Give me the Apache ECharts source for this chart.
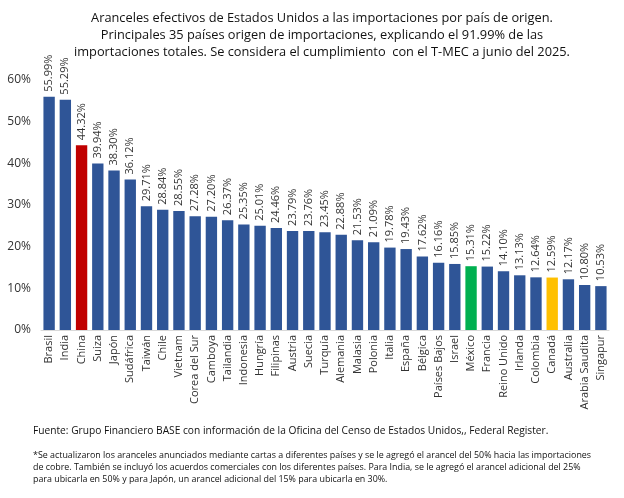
<!DOCTYPE html>
<html><head><meta charset="utf-8">
<script src="https://cdn.jsdelivr.net/npm/echarts@6/dist/echarts.min.js"></script>
<style>html,body{margin:0;padding:0;background:#fff}#c{width:624px;height:498px}</style>
</head><body><div id="c"></div>
<script>
const categories = ["Brasil","India","China","Suiza","Japón","Sudáfrica","Taiwán","Chile","Vietnam","Corea del Sur","Camboya","Tailandia","Indonesia","Hungría","Filipinas","Austria","Suecia","Turquía","Alemania","Malasia","Polonia","Italia","España","Bélgica","Países Bajos","Israel","México","Francia","Reino Unido","Irlanda","Colombia","Canadá","Australia","Arabia Saudita","Singapur"];
const tariffs = [55.99,55.29,44.32,39.94,38.30,36.12,29.71,28.84,28.55,27.28,27.20,26.37,25.35,25.01,24.46,23.79,23.76,23.45,22.88,21.53,21.09,19.78,19.43,17.62,16.16,15.85,15.31,15.22,14.10,13.13,12.64,12.59,12.17,10.80,10.53];
const highlight = {"China":"#C00000","México":"#00B050","Canadá":"#FFC000"};
const baseColor = "#2F5597";
const yTicks = [0,10,20,30,40,50,60];

const FONT = "'Open Sans', 'Noto Sans', sans-serif";
const chart = echarts.init(document.getElementById('c'));
chart.setOption({
  animation:false,
  textStyle:{fontFamily:FONT},
  title:[
    {text:"Aranceles efectivos de Estados Unidos a las importaciones por país de origen.\nPrincipales 35 países origen de importaciones, explicando el 91.99% de las\nimportaciones totales. Se considera el cumplimiento  con el T-MEC a junio del 2025.",
     left:322, top:10, textAlign:'center', padding:0,
     textStyle:{fontSize:12.8, fontWeight:'normal', color:'#111', lineHeight:17, fontFamily:FONT}},
    {text:"Fuente: Grupo Financiero BASE con información de la Oficina del Censo de Estados Unidos,, Federal Register.",
     left:33, top:426, padding:0, textStyle:{fontSize:10.2, fontWeight:'normal', color:'#111', fontFamily:FONT}},
    {text:"*Se actualizaron los aranceles anunciados mediante cartas a diferentes países y se le agregó el arancel del 50% hacia las importaciones\nde cobre. También se incluyó los acuerdos comerciales con los diferentes países. Para India, se le agregó el arancel adicional del 25%\npara ubicarla en 50% y para Japón, un arancel adicional del 15% para ubicarla en 30%.",
     left:33, top:449, padding:0, textStyle:{fontSize:8.9, fontWeight:'normal', color:'#111', lineHeight:12, fontFamily:FONT}}
  ],
  grid:{left:41, right:15, top:80, bottom:168},
  xAxis:{type:'category', data:categories,
    axisLine:{lineStyle:{color:'#D9D9D9'}}, axisTick:{show:false},
    axisLabel:{rotate:90, interval:0, fontSize:11, color:'#333', margin:5, fontFamily:FONT}},
  yAxis:{type:'value', min:0, max:60, interval:10, splitLine:{show:false},
    axisLine:{show:false}, axisTick:{show:false},
    axisLabel:{formatter:v=>v+'%', fontSize:12, color:'#333', margin:10, fontFamily:FONT}},
  series:[{type:'bar', barCategoryGap:'30%',
    data:categories.map((c,i)=>({value:tariffs[i], itemStyle:{color:highlight[c]||baseColor}})),
    label:{show:true, position:'top', rotate:90, align:'left', verticalAlign:'middle', distance:5,
      formatter:p=>p.value.toFixed(2)+'%', fontSize:11, color:'#333', fontFamily:FONT}}]
});
</script></body></html>
